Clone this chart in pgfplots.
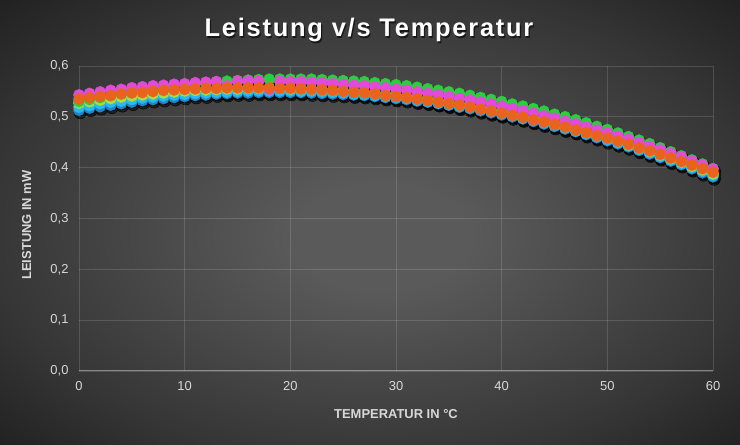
\documentclass[border=0pt]{standalone}
\usepackage{fontspec}
\setmainfont{Liberation Sans}
\newfontfamily\titlefont[LetterSpace=7]{Liberation Sans}
\usepackage{pgfplots}
\usepackage{pgfplotstable}
\pgfplotsset{compat=1.18}

\definecolor{bgA}{HTML}{5A5A5A}
\definecolor{bgB}{HTML}{363636}
\definecolor{bgC}{HTML}{1C1C1C}
\definecolor{cBlue}{HTML}{1E86C8}
\definecolor{cCyan}{HTML}{2AB8F0}
\definecolor{cLime}{HTML}{A6E040}
\definecolor{cGreen}{HTML}{2ECC40}
\definecolor{cMagenta}{HTML}{E04CD8}
\definecolor{cOrange}{HTML}{E8641E}
\definecolor{tickgray}{HTML}{D8D8D8}

\pgfdeclareradialshading{bgshade}{\pgfpoint{1bp}{-2bp}}{%
  color(0bp)=(bgA); color(6bp)=(bgA); color(26bp)=(bgB); color(38bp)=(bgC)}

% T = temperature, columns = six measurement series
\pgfplotstableread{
T  blue  cyan  lime  green magenta orange
0  0.513 0.519 0.527 0.530 0.543 0.535
1  0.517 0.522 0.530 0.534 0.546 0.538
2  0.520 0.526 0.533 0.538 0.549 0.540
3  0.523 0.529 0.536 0.542 0.552 0.542
4  0.526 0.531 0.539 0.546 0.554 0.545
5  0.529 0.534 0.541 0.549 0.557 0.547
6  0.532 0.537 0.543 0.552 0.559 0.548
7  0.534 0.539 0.545 0.555 0.561 0.550
8  0.536 0.541 0.547 0.558 0.562 0.552
9  0.538 0.543 0.549 0.561 0.564 0.553
10 0.540 0.544 0.551 0.563 0.565 0.554
11 0.542 0.546 0.552 0.565 0.567 0.555
12 0.543 0.547 0.553 0.567 0.568 0.556
13 0.545 0.548 0.554 0.569 0.569 0.556
14 0.546 0.549 0.555 0.570 0.561 0.557
15 0.547 0.550 0.555 0.571 0.570 0.557
16 0.547 0.551 0.556 0.572 0.570 0.557
17 0.548 0.551 0.556 0.573 0.570 0.557
18 0.548 0.551 0.556 0.574 0.554 0.557
19 0.548 0.551 0.556 0.574 0.570 0.556
20 0.548 0.551 0.555 0.574 0.569 0.556
21 0.548 0.550 0.555 0.574 0.569 0.555
22 0.547 0.550 0.554 0.574 0.568 0.554
23 0.546 0.549 0.553 0.573 0.567 0.553
24 0.545 0.548 0.552 0.572 0.565 0.552
25 0.544 0.547 0.551 0.571 0.564 0.550
26 0.543 0.545 0.549 0.570 0.562 0.548
27 0.542 0.544 0.548 0.569 0.561 0.547
28 0.540 0.542 0.546 0.567 0.559 0.545
29 0.538 0.540 0.544 0.565 0.557 0.542
30 0.536 0.538 0.542 0.563 0.554 0.540
31 0.534 0.536 0.539 0.561 0.552 0.538
32 0.531 0.533 0.537 0.558 0.549 0.535
33 0.529 0.530 0.534 0.555 0.546 0.532
34 0.526 0.527 0.531 0.552 0.543 0.529
35 0.523 0.524 0.528 0.549 0.540 0.526
36 0.519 0.521 0.524 0.546 0.536 0.523
37 0.516 0.518 0.521 0.542 0.533 0.519
38 0.512 0.514 0.517 0.538 0.529 0.515
39 0.508 0.510 0.513 0.534 0.525 0.511
40 0.504 0.506 0.509 0.530 0.521 0.507
41 0.500 0.502 0.505 0.525 0.516 0.503
42 0.496 0.497 0.500 0.521 0.512 0.499
43 0.491 0.493 0.496 0.516 0.507 0.494
44 0.486 0.488 0.491 0.511 0.502 0.490
45 0.481 0.483 0.486 0.505 0.497 0.485
46 0.476 0.478 0.480 0.500 0.491 0.480
47 0.471 0.472 0.475 0.494 0.486 0.474
48 0.465 0.467 0.469 0.488 0.480 0.469
49 0.459 0.461 0.464 0.481 0.474 0.463
50 0.453 0.455 0.458 0.475 0.468 0.458
51 0.447 0.449 0.452 0.468 0.462 0.452
52 0.441 0.443 0.445 0.461 0.456 0.446
53 0.434 0.436 0.439 0.454 0.449 0.439
54 0.427 0.429 0.432 0.447 0.442 0.433
55 0.420 0.422 0.425 0.439 0.435 0.426
56 0.413 0.415 0.418 0.431 0.428 0.419
57 0.406 0.408 0.411 0.423 0.421 0.412
58 0.398 0.400 0.403 0.415 0.413 0.405
59 0.390 0.393 0.396 0.407 0.405 0.398
60 0.382 0.385 0.388 0.398 0.397 0.391
}\leistung

\begin{document}
\begin{tikzpicture}
\shade[shading=bgshade] (0,0) rectangle (740bp,445bp);

\node[anchor=base, text=black, opacity=0.6, font=\titlefont\fontsize{25.5}{29}\selectfont\bfseries]
  at (370.2bp,406.8bp) {Leistung v/s Temperatur};
\node[anchor=base, text=white, font=\titlefont\fontsize{25.5}{29}\selectfont\bfseries]
  at (369bp,408bp) {Leistung v/s Temperatur};
\node[anchor=base, text=tickgray, font=\fontsize{13}{15}\selectfont\bfseries]
  at (396bp,27bp) {TEMPERATUR IN °C};
\node[anchor=base, rotate=90, text=tickgray, font=\fontsize{13}{15}\selectfont\bfseries]
  at (31bp,220bp) {LEISTUNG IN mW};

\begin{axis}[
  at={(79bp,74bp)}, anchor=south west,
  scale only axis, width=634bp, height=305bp,
  xmin=0, xmax=60, ymin=0, ymax=0.6,
  xtick={0,10,...,60}, ytick={0,0.1,...,0.6},
  clip=false,
  axis line style={draw=none},
  major tick length=0pt,
  grid=major,
  grid style={white, opacity=0.14, line width=0.8bp},
  ticklabel style={text=tickgray, font=\fontsize{13}{15}\selectfont},
  xticklabel style={yshift=-7bp},
  yticklabel style={xshift=-7bp},
  /pgf/number format/assume math mode=true,
  yticklabel={\pgfmathprintnumber[fixed, fixed zerofill, precision=1, use comma]{\tick}},
  shadowStyle/.style={only marks, mark=*, mark size=6.2pt,
    mark options={draw=none, fill=black, fill opacity=0.5, xshift=1.2bp, yshift=-2.4bp}},
  dotStyle/.style={only marks, mark=*, mark size=5.7pt,
    mark options={draw=#1, fill=#1, line width=0.3bp}},
]
\draw[color=white, opacity=0.4, line width=1bp] (axis cs:0,0) -- (axis cs:60,0);
% shadows first, then the coloured series
\addplot[shadowStyle] table[x=T, y=blue] \leistung;
\addplot[shadowStyle] table[x=T, y=cyan] \leistung;
\addplot[shadowStyle] table[x=T, y=green] \leistung;
\addplot[shadowStyle] table[x=T, y=magenta] \leistung;
\addplot[shadowStyle] table[x=T, y=orange] \leistung;
\addplot[dotStyle=cBlue] table[x=T, y=blue] \leistung;
\addplot[dotStyle=cCyan] table[x=T, y=cyan] \leistung;
\addplot[dotStyle=cLime] table[x=T, y=lime] \leistung;
\addplot[dotStyle=cGreen] table[x=T, y=green] \leistung;
\addplot[dotStyle=cMagenta] table[x=T, y=magenta] \leistung;
\addplot[dotStyle=cOrange] table[x=T, y=orange] \leistung;
\end{axis}
\end{tikzpicture}
\end{document}
